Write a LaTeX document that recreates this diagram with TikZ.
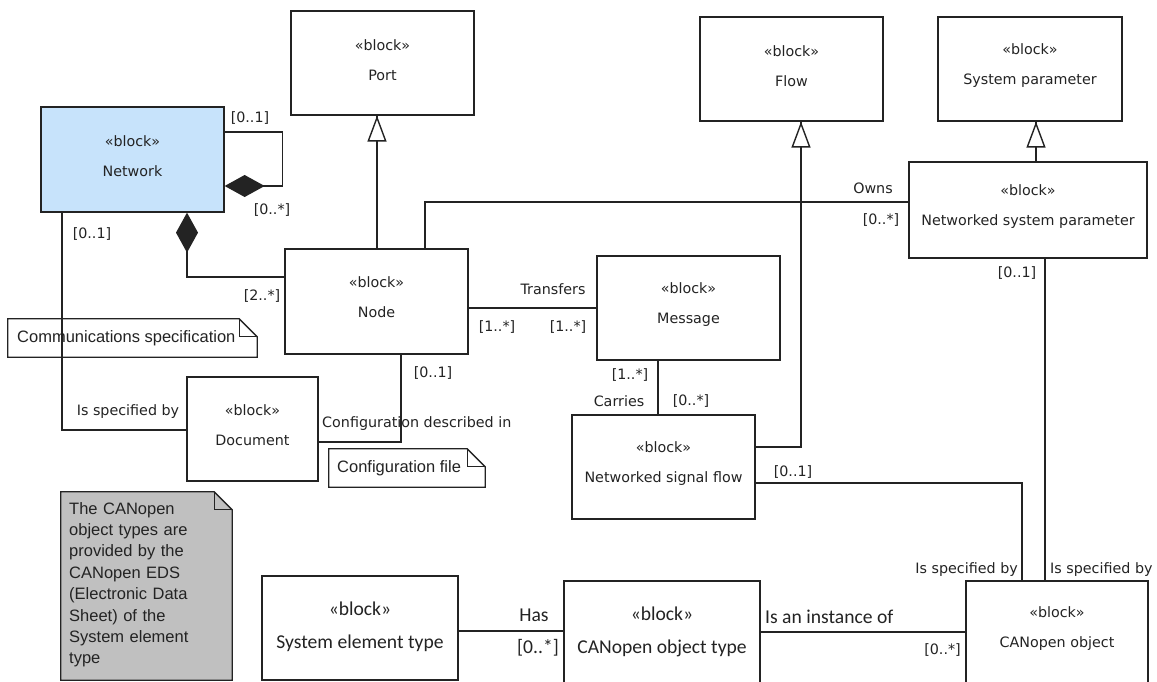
\documentclass[tikz,border=0pt]{standalone}
\usepackage{fontspec}
\setmainfont{DejaVu Sans}
\newfontfamily\notefont{Liberation Sans}
\newfontfamily\calfont{Carlito}
\usetikzlibrary{arrows.meta}
\definecolor{ink}{RGB}{35,35,35}
\definecolor{netblue}{RGB}{199,227,251}
\definecolor{notegray}{RGB}{192,192,192}

% UML note outline with a folded corner around a named node
\newcommand{\foldednote}[3][white]{%
  \draw[ink, line width=1.3pt, fill=#1, line join=miter]
    (#2.north west) -- ([xshift=-#3]#2.north east) -- ([yshift=-#3]#2.north east)
    -- (#2.south east) -- (#2.south west) -- cycle;
  \draw[ink, line width=1.3pt] ([xshift=-#3]#2.north east) |- ([yshift=-#3]#2.north east);}

\begin{document}
\begin{tikzpicture}[x=1pt,y=-1pt,
  box/.style={draw=ink, line width=1.3pt, inner sep=0pt, fill=white},
  btext/.style={align=center, inner sep=0pt, text=ink, font=\fontsize{14.3}{30}\selectfont},
  ctext/.style={align=center, inner sep=0pt, text=ink, font=\calfont\fontsize{19.6}{33}\selectfont},
  lbl/.style={inner sep=0pt, text=ink, font=\fontsize{14.3}{17}\selectfont},
  clbl/.style={inner sep=0pt, text=ink, font=\calfont\fontsize{19.6}{22}\selectfont},
  notebox/.style={inner sep=0pt},
  ntext/.style={inner sep=0pt, text=ink, font=\notefont\fontsize{16.5}{21.4}\selectfont},
  conn/.style={draw=ink, line width=1.4pt},
  gen/.style={draw=ink, line width=1.4pt, -{Triangle[open, length=26pt, width=19pt, fill=white]}},
  comp/.style={draw=ink, line width=1.4pt, -{Diamond[length=40pt, width=22pt, fill=ink]}}
]
\path[use as bounding box] (0,0) rectangle (1157,682);
\clip (0,0) rectangle (1157,682);
\fill[white] (0,0) rectangle (1157,682);

% notes
\node[notebox, minimum width=249, minimum height=38] (cspec) at (132.5,338) {};
\foldednote{cspec}{18}
\node[ntext, anchor=west] (cspec-t) at (17,338) {Communications specification};

\node[notebox, minimum width=156, minimum height=38] (cfile) at (407,468) {};
\foldednote{cfile}{18}
\node[ntext, anchor=west] (cfile-t) at (337,468) {Configuration file};

\node[notebox, minimum width=171, minimum height=188] (eds) at (146.5,586) {};
\foldednote[notegray]{eds}{18}
\node[ntext, align=left, text width=155, anchor=north west] (eds-t) at (69,502)
  {The CANopen\\object types are\\provided by the\\CANopen EDS\\(Electronic Data\\Sheet) of the\\System element\\type};

% blocks
\node[box, minimum width=183, minimum height=104] (port) at (382.5,63) {};
\node[btext] (port-t) at ([yshift=3]port.center) {«block»\\Port};
\node[box, minimum width=183, minimum height=104] (flow) at (791.5,69) {};
\node[btext] (flow-t) at ([yshift=3]flow.center) {«block»\\Flow};
\node[box, minimum width=184, minimum height=104] (syspar) at (1030,69) {};
\node[btext] (syspar-t) at ([yshift=3]syspar.center) {«block»\\System parameter};
\node[box, fill=netblue, minimum width=183, minimum height=105] (network) at (132.5,159.5) {};
\node[btext] (network-t) at ([yshift=3]network.center) {«block»\\Network};
\node[box, minimum width=183, minimum height=105] (node) at (376.5,301.5) {};
\node[btext] (node-t) at ([yshift=4]node.center) {«block»\\Node};
\node[box, minimum width=183, minimum height=104] (msg) at (688.5,308) {};
\node[btext] (msg-t) at ([yshift=3]msg.center) {«block»\\Message};
\node[box, minimum width=238, minimum height=96] (nsp) at (1028,210) {};
\node[btext] (nsp-t) at ([yshift=3]nsp.center) {«block»\\Networked system parameter};
\node[box, minimum width=131, minimum height=104] (doc) at (252.5,429) {};
\node[btext] (doc-t) at ([yshift=4]doc.center) {«block»\\Document};
\node[box, minimum width=183, minimum height=104] (nsf) at (663.5,467) {};
\node[btext] (nsf-t) at ([yshift=3]nsf.center) {«block»\\Networked signal flow};
\node[box, minimum width=182, minimum height=119] (cobj) at (1057,640.5) {};
\node[btext] (cobj-t) at ([yshift=12]cobj.center) {«block»\\CANopen object};
\node[box, minimum width=196, minimum height=104] (set) at (360,628) {};
\node[ctext] (set-t) at ([yshift=1.5]set.center) {«block»\\System element type};
\node[box, minimum width=196, minimum height=119] (cot) at (662,640.5) {};
\node[ctext] (cot-t) at ([yshift=9]cot.center) {«block»\\CANopen object type};

% generalizations: full shaft first, then the hollow head on top
\coordinate (g1a) at ([xshift=0.5]node.north);
\coordinate (g2a) at ([xshift=8]nsp.north);
\coordinate (g3a) at ([yshift=20]nsf.east);
\draw[conn] (g1a) -- (g1a |- port.south);
\draw[conn] (g2a) -- (g2a |- syspar.south);
\draw[conn] (g3a) -| ([xshift=9.5]flow.south);
\draw[gen] (g1a) -- (g1a |- port.south);
\draw[gen] (g2a) -- (g2a |- syspar.south);
\draw[gen] (g3a) -| ([xshift=9.5]flow.south);

% compositions
\coordinate (selfA) at ([yshift=27.5]network.east);
\coordinate (selfB) at ([yshift=-26.5]network.east);
\draw[comp] (selfA) -- ++(58,0) |- (selfB);
\draw[comp] ([yshift=24.5]node.west) -| ([xshift=54.5]network.south);

% association labels and multiplicities
\node[lbl] (m1) at (250,118) {[0..1]};
\node[lbl] (m2) at (272,210) {[0..*]};
\node[lbl] (m3) at (92,234) {[0..1]};
\node[lbl] (m4) at (262,296) {[2..*]};
\node[lbl] (a1) at (128,412) {Is specified by};
\node[lbl, anchor=west] (a2) at (322,424) {Configuration described in};
\node[lbl] (m5) at (433,373) {[0..1]};
\node[lbl] (a3) at (553,289) {Transfers};
\node[lbl] (m6) at (497,327) {[1..*]};
\node[lbl] (m7) at (568,327) {[1..*]};
\node[lbl] (a4) at (873,188) {Owns};
\node[lbl] (m8) at (881,220) {[0..*]};
\node[lbl] (m9) at (1017,273) {[0..1]};
\node[lbl] (m10) at (630,375) {[1..*]};
\node[lbl] (a5) at (619,401) {Carries};
\node[lbl] (m11) at (691,401) {[0..*]};
\node[lbl] (m12) at (793,472) {[0..1]};
\node[lbl, anchor=east] (a6) at (1018,570) {Is specified by};
\node[lbl, anchor=west] (a7) at (1050,570) {Is specified by};
\node[clbl] (a8) at (534,615) {Has};
\node[clbl, anchor=east] (m13) at (559,648) {[0..*]};
\node[clbl, anchor=west] (a9) at (765,617) {Is an instance of};
\node[lbl, anchor=east] (m14) at (961,650) {[0..*]};

% associations (drawn over the notes and labels they cross)
\draw[conn] ([xshift=-70.5]network.south) |- ([yshift=-1]doc.west);
\draw[conn] ([xshift=24.5]node.south) |- ([yshift=-13]doc.east);
\draw[conn] (node.east |- msg.west) -- (msg.west);
\draw[conn] ([xshift=48.5]node.north) |- ([yshift=8]nsp.west);
\draw[conn] ([xshift=-30.5]msg.south) -- ([xshift=-30.5]msg.south |- nsf.north);
\draw[conn] ([yshift=-16]nsf.east) -| ([xshift=-35]cobj.north);
\draw[conn] ([xshift=17]nsp.south) -- ([xshift=17]nsp.south |- cobj.north);
\draw[conn] ([yshift=-3]set.east) -- ([yshift=-3]set.east -| cot.west);
\draw[conn] ([yshift=8.5]cot.east) -- ([yshift=8.5]cot.east -| cobj.west);
\end{tikzpicture}
\end{document}
